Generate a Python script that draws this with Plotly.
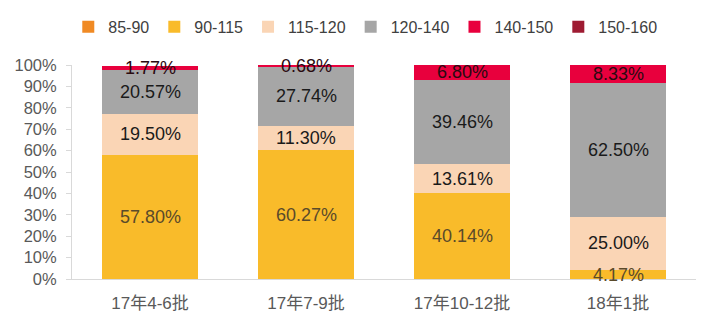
import plotly.graph_objects as go

categories = ["17年4-6批", "17年7-9批", "17年10-12批", "18年1批"]
series_names = ["85-90", "90-115", "115-120", "120-140", "140-150", "150-160"]
v_85_90 = [0, 0, 0, 0]
v_90_115 = [57.80, 60.27, 40.14, 4.17]
v_115_120 = [19.50, 11.30, 13.61, 25.00]
v_120_140 = [20.57, 27.74, 39.46, 62.50]
v_140_150 = [1.77, 0.68, 6.80, 8.33]
v_150_160 = [0, 0, 0, 0]

values = [v_85_90, v_90_115, v_115_120, v_120_140, v_140_150, v_150_160]
colors = ["#F08A24", "#F9BB2A", "#FAD5B5", "#A6A6A6", "#E8003D", "#9E1B32"]
text_colors = ["#333333", "#5a4a2a", "#1a1a1a", "#1a1a1a", "#2a0a10", "#1a1a1a"]

FONT = "Liberation Sans, Arial, Noto Sans CJK SC, sans-serif"

fig = go.Figure()
for name, vals, col in zip(series_names, values, colors):
    fig.add_trace(go.Bar(
        name=name,
        x=categories,
        y=[v / 100 for v in vals],
        marker=dict(color=col, line=dict(width=0)),
    ))

# segment labels, centred on each stacked segment
base = [0.0] * len(categories)
for vals, tc in zip(values, text_colors):
    for i, v in enumerate(vals):
        if v > 0:
            fig.add_annotation(
                x=categories[i], y=(base[i] + v / 2) / 100,
                text=f"{v:.2f}%", showarrow=False,
                font=dict(size=18, color=tc, family=FONT),
                xref="x", yref="y",
            )
        base[i] += v

fig.update_layout(
    barmode="stack",
    bargap=0.38,
    width=720, height=334,
    margin=dict(l=72, r=24, t=65, b=55, autoexpand=False),
    plot_bgcolor="white",
    paper_bgcolor="white",
    font=dict(family=FONT, size=16, color="#595959"),
    showlegend=True,
    legend=dict(orientation="h", x=0.47, xanchor="center", y=1.178, yanchor="middle",
                font=dict(size=16, color="#404040"), traceorder="normal",
                itemwidth=30, tracegroupgap=0),
)
fig.update_yaxes(range=[0, 1], tickformat=".0%", dtick=0.1, showgrid=False,
                 showline=True, linecolor="#D9D9D9", linewidth=1,
                 ticks="outside", tickcolor="#D9D9D9", ticklen=5,
                 ticklabelstandoff=6,
                 tickfont=dict(size=16.5, color="#595959"), zeroline=False)
fig.update_xaxes(showline=True, linecolor="#D9D9D9", linewidth=1, ticks="",
                 ticklabelstandoff=9,
                 tickfont=dict(size=17, color="#595959"))

fig.write_html("out.html")
